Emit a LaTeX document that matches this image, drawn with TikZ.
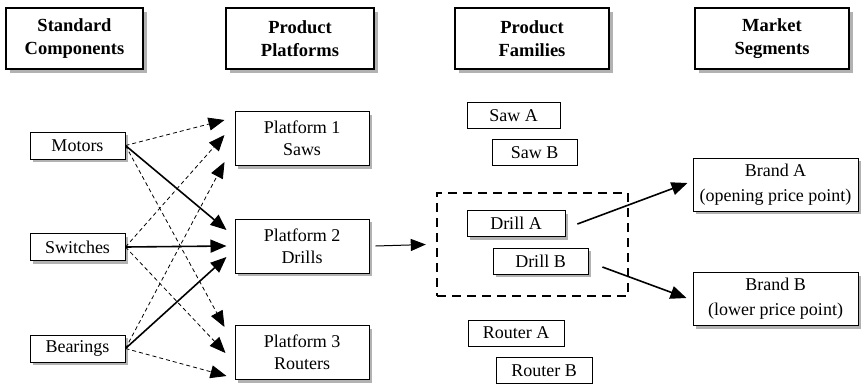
\documentclass[tikz,border=0pt]{standalone}
\usepackage{fontspec}
\setmainfont{Liberation Serif}
\usetikzlibrary{arrows.meta,positioning,calc,shadows}

\begin{document}
\begin{tikzpicture}[x=1pt,y=-1pt,
    hdbox/.style={draw,line width=1.2pt,fill=white,align=center,inner sep=0pt,
      font=\fontsize{18.5}{23}\selectfont\bfseries,minimum height=61pt,
      drop shadow={shadow xshift=3.5pt,shadow yshift=-3.5pt,fill=gray!60,opacity=1}},
    compbox/.style={draw,line width=1pt,fill=white,inner sep=0pt,
      font=\fontsize{18}{22}\selectfont,minimum width=95pt,minimum height=27pt,
      drop shadow={shadow xshift=3pt,shadow yshift=-3pt,fill=gray!60,opacity=1}},
    platbox/.style={compbox,align=center,minimum width=134pt,minimum height=54pt},
    fambox/.style={draw,line width=0.8pt,fill=white,inner sep=0pt,
      font=\fontsize{18}{22}\selectfont,minimum height=26pt},
    brandbox/.style={platbox,minimum width=165pt,minimum height=53pt,
      font=\fontsize{18}{25}\selectfont},
    thinarr/.style={-{Triangle[length=16pt,width=13pt]},dashed,line width=0.8pt,
      dash pattern=on 4pt off 3pt},
    thickarr/.style={-{Triangle[length=16pt,width=13pt]},line width=1.6pt}]
  \useasboundingbox (0,0) rectangle (864,384);

  % column headers
  \node[hdbox,minimum width=137pt] (hdcomp) at (74.5,38.5) {Standard\\Components};
  \node[hdbox,minimum width=148pt] (hdplat) at (300,38.5) {Product\\Platforms};
  \node[hdbox,minimum width=154pt] (hdfam) at (532,38.5) {Product\\Families};
  \node[hdbox,minimum width=154pt] (hdmkt) at (772,38.5) {Market\\Segments};

  % components
  \node[compbox] (motors) at (77.5,145.5) {Motors};
  \node[compbox] (switches) at (77.5,247) {Switches};
  \node[compbox] (bearings) at (77.5,348.5) {Bearings};

  % platforms
  \node[platbox] (plat1) at (302,138.5) {Platform 1\\Saws};
  \node[platbox] (plat2) at (302,246) {Platform 2\\Drills};
  \node[platbox] (plat3) at (302,352.5) {Platform 3\\Routers};

  % families
  \node[fambox,minimum width=93pt] (sawa) at (513.5,115.5) {Saw A};
  \node[fambox,minimum width=85pt] (sawb) at (534.5,152.5) {Saw B};
  \node[fambox,minimum width=98pt,drop shadow={shadow xshift=3pt,shadow yshift=-3pt,fill=gray!60,opacity=1}] (drilla) at (516,223.5) {Drill A};
  \node[fambox,minimum width=95pt,drop shadow={shadow xshift=3pt,shadow yshift=-3pt,fill=gray!60,opacity=1}] (drillb) at (540.5,261) {Drill B};
  \node[fambox,minimum width=96pt] (routera) at (516,333) {Router A};
  \node[fambox,minimum width=96pt] (routerb) at (544,370.5) {Router B};
  \node[draw,line width=2.4pt,dash pattern=on 9pt off 6pt,minimum width=191pt,
    minimum height=103pt] (drillgrp) at (532.5,244.5) {};

  % market segments
  \node[brandbox] (branda) at (775.5,184.5) {Brand A\\(opening price point)};
  \node[brandbox] (brandb) at (775.5,299) {Brand B\\(lower price point)};

  % components to platforms
  \draw[thinarr] (motors.east) -- ($(plat1.west)+(-10,-18.5)$);
  \draw[thickarr] (motors.east) -- ($(plat2.west)+(-8,-16)$);
  \draw[thinarr] (motors.east) -- ($(plat3.west)+(-10,-25.5)$);
  \draw[thinarr] (switches.east) -- ($(plat1.west)+(-10,-3.5)$);
  \draw[thickarr] (switches.east) -- ($(plat2.west)+(-8,0)$);
  \draw[thinarr] (switches.east) -- ($(plat3.west)+(-9,0.5)$);
  \draw[thinarr] (bearings.east) -- ($(plat1.west)+(-10,23.5)$);
  \draw[thickarr] (bearings.east) -- ($(plat2.west)+(-8,11)$);
  \draw[thinarr] (bearings.east) -- ($(plat3.west)+(-8,23.5)$);

  % platform to families, families to segments
  \draw[-{Triangle[length=15pt,width=12pt]},line width=1pt] ($(plat2.east)+(6,0)$) -- ($(drillgrp.west)+(-10,0)$);
  \draw[thickarr] ($(drilla.east)+(12,0.5)$) -- ($(branda.west)+(-5,-1.5)$);
  \draw[thickarr] ($(drillb.east)+(14,6)$) -- ($(brandb.west)+(-6,-1)$);
\end{tikzpicture}
\end{document}
